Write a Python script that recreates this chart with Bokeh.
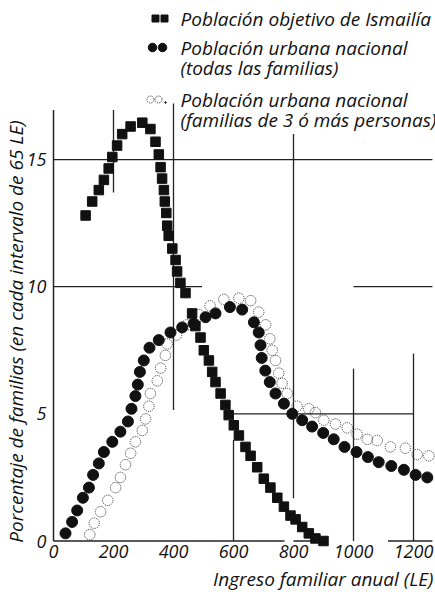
import math
from bokeh.plotting import figure
from bokeh.models import Range1d, FixedTicker
from bokeh.embed import file_html
from bokeh.resources import INLINE
from bokeh.core.properties import value

# ---------------- data ----------------
# Población objetivo de Ismailía
ism_x = [107, 129, 151, 168, 184, 196, 212, 229, 257, 296, 323, 340, 351, 357, 362,
         368, 371, 376, 379, 384, 396, 407, 412, 423, 440, 462, 473, 490, 501, 518,
         529, 540, 557, 573, 584, 601, 618, 640, 657, 679, 701, 723, 746, 768, 790,
         807, 829, 851, 873, 900]
ism_y = [12.8, 13.35, 13.8, 14.2, 14.65, 15.1, 15.55, 16.0, 16.3, 16.45, 16.2, 15.7, 15.2, 14.7, 14.25,
         13.8, 13.35, 12.9, 12.4, 12.0, 11.5, 11.05, 10.6, 10.15, 9.75, 8.95, 8.45, 8.0, 7.5, 7.1,
         6.65, 6.25, 5.8, 5.35, 4.95, 4.55, 4.15, 3.7, 3.35, 2.9, 2.45, 2.1, 1.7, 1.35, 1.0,
         0.85, 0.55, 0.3, 0.1, 0.0]

# Población urbana nacional (todas las familias)
nat_x = [40, 62, 79, 98, 118, 132, 151, 168, 196, 223, 248, 260, 273, 281, 288, 301, 320,
         351, 390, 429, 467, 507, 540, 588, 629, 668, 684, 690, 694, 706, 721, 740, 768,
         796, 829, 862, 899, 934, 970, 1010, 1048, 1084, 1126, 1168, 1207, 1246]
nat_y = [0.3, 0.75, 1.2, 1.7, 2.1, 2.6, 3.05, 3.5, 3.9, 4.3, 4.7, 5.2, 5.7, 6.15, 6.65, 7.1, 7.6,
         7.9, 8.2, 8.4, 8.55, 8.8, 8.95, 9.2, 9.1, 8.6, 8.2, 7.7, 7.2, 6.7, 6.25, 5.8, 5.4,
         5.0, 4.75, 4.5, 4.25, 4.0, 3.7, 3.5, 3.3, 3.1, 2.95, 2.8, 2.6, 2.5]

# Población urbana nacional (familias de 3 ó más personas)
fam3_x = [121, 136, 157, 181, 207, 223, 240, 257, 273, 296, 307, 318, 323, 346, 357, 373,
          379, 410, 445, 485, 522, 568, 618, 657, 684, 707, 721, 729, 740, 751, 762, 779,
          812, 851, 873, 901, 940, 979, 1012, 1046, 1079, 1123, 1173, 1212, 1251]
fam3_y = [0.25, 0.7, 1.15, 1.6, 2.1, 2.5, 3.0, 3.45, 3.9, 4.35, 4.8, 5.3, 5.8, 6.3, 6.8, 7.3,
          7.75, 8.1, 8.5, 8.9, 9.25, 9.5, 9.55, 9.45, 9.0, 8.5, 7.95, 7.5, 7.1, 6.6, 6.2, 5.8,
          5.3, 5.2, 5.05, 4.75, 4.6, 4.45, 4.2, 4.0, 3.95, 3.7, 3.65, 3.4, 3.35]

x_ticks = [0, 200, 400, 600, 800, 1000, 1200]
y_ticks = [0, 5, 10, 15]

legend_labels = [
    ["Población objetivo de Ismailía"],
    ["Población urbana nacional", "(todas las familias)"],
    ["Población urbana nacional", "(familias de 3 ó más personas)"],
]
x_title = "Ingreso familiar anual (LE)"
y_title = "Porcentaje de familias (en cada intervalo de 65 LE)"

# partial reference lines of the original drawing: (value, from, to)
h_lines = [(15, 0, 1263), (10, 0, 495), (10, 1000, 1263), (5, 600, 1200)]
v_lines = [(200, 13.7, 16.95), (400, 5.15, 17.2), (600, 0, 3.97), (800, 1.68, 16.0),
           (1000, 0, 6.78), (1200, 0, 7.37)]
x_axis_pieces = [(0, 770), (800, 890), (1115, 1263)]
y_axis_top = 16.95

# ---------------- layout (page pixels -> data) ----------------
W, H = 435, 592
X0_PX, X_SCALE = 53.0, 0.300      # page x of value 0, px per LE
Y0_PX, Y_SCALE = 540.5, 25.43     # page y of value 0, px per percent
FONT = "Open Sans"
INK = "#111111"
LINE = "#222222"

def sx(px):
    return (px - X0_PX) / X_SCALE

def sy(py):
    return (Y0_PX - py) / Y_SCALE

p = figure(width=W, height=H, output_backend="svg", toolbar_location=None,
           x_range=Range1d(sx(0), sx(W)), y_range=Range1d(sy(H), sy(0)),
           min_border_left=0, min_border_right=0, min_border_top=0,
           min_border_bottom=0)
p.outline_line_color = None
p.grid.visible = False
p.background_fill_color = "white"
p.border_fill_color = "white"

p.xaxis.ticker = FixedTicker(ticks=x_ticks)
p.yaxis.ticker = FixedTicker(ticks=y_ticks)
p.xaxis.fixed_location = 0
p.yaxis.fixed_location = 0
for ax in (p.xaxis, p.yaxis):
    ax.axis_line_color = None
    ax.major_tick_line_color = None
    ax.minor_tick_line_color = None
    ax.major_tick_in = 0
    ax.major_tick_out = 0
    ax.major_label_text_font = FONT
    ax.major_label_text_font_style = "italic"
    ax.major_label_text_font_size = "18px"
    ax.major_label_text_color = INK
p.xaxis.major_label_standoff = 4
p.yaxis.major_label_standoff = 7

# reference lines
p.segment(x0=[v[1] for v in h_lines], y0=[v[0] for v in h_lines],
          x1=[v[2] for v in h_lines], y1=[v[0] for v in h_lines],
          line_color=LINE, line_width=1.3)
p.segment(x0=[v[0] for v in v_lines], y0=[v[1] for v in v_lines],
          x1=[v[0] for v in v_lines], y1=[v[2] for v in v_lines],
          line_color=LINE, line_width=1.3)
# axis lines
p.segment(x0=[a for a, b in x_axis_pieces], y0=[0] * len(x_axis_pieces),
          x1=[b for a, b in x_axis_pieces], y1=[0] * len(x_axis_pieces),
          line_color=LINE, line_width=1.5)
p.segment(x0=[0], y0=[0], x1=[0], y1=[y_axis_top], line_color=LINE, line_width=1.5)

# series
p.scatter(fam3_x, fam3_y, marker="circle", size=10.5, fill_color=None,
          line_color="#333333", line_width=1, line_dash="1 1")
p.scatter(nat_x, nat_y, marker="circle", size=11, fill_color=INK, line_color=INK)
p.scatter(ism_x, ism_y, marker="square", size=9.5, fill_color=INK, line_color=INK)

# legend (drawn by hand to mimic the original)
text_x = sx(180)
rows = [(18,), (47, 67), (99, 119)]
for labels, ys in zip(legend_labels, rows):
    p.text(x=[text_x] * len(labels), y=[sy(v) for v in ys], text=labels,
           text_font=value(FONT), text_font_style="italic", text_font_size="19px",
           text_baseline="middle", text_align="left", text_color=INK)
p.scatter([sx(155), sx(164)], [sy(18), sy(18)], marker="square", size=7,
          fill_color=INK, line_color=INK)
p.scatter([sx(152), sx(162)], [sy(47), sy(47)], marker="circle", size=8.5,
          fill_color=INK, line_color=INK)
p.scatter([sx(150), sx(158)], [sy(99), sy(99)], marker="circle", size=7,
          fill_color=None, line_color="#333333", line_dash="1 1")
p.scatter([sx(165)], [sy(102)], marker="circle", size=1.5, fill_color=INK, line_color=INK)

# axis titles
p.text(x=[sx(15)], y=[sy(331)], text=[y_title], angle=math.pi / 2,
       text_align="center", text_baseline="middle",
       text_font=value(FONT), text_font_style="italic", text_font_size="19px",
       text_color=INK)
p.text(x=[sx(433)], y=[sy(578)], text=[x_title],
       text_align="right", text_baseline="middle",
       text_font=value(FONT), text_font_style="italic", text_font_size="19px",
       text_color=INK)

open("out.html", "w").write(file_html(p, INLINE))
